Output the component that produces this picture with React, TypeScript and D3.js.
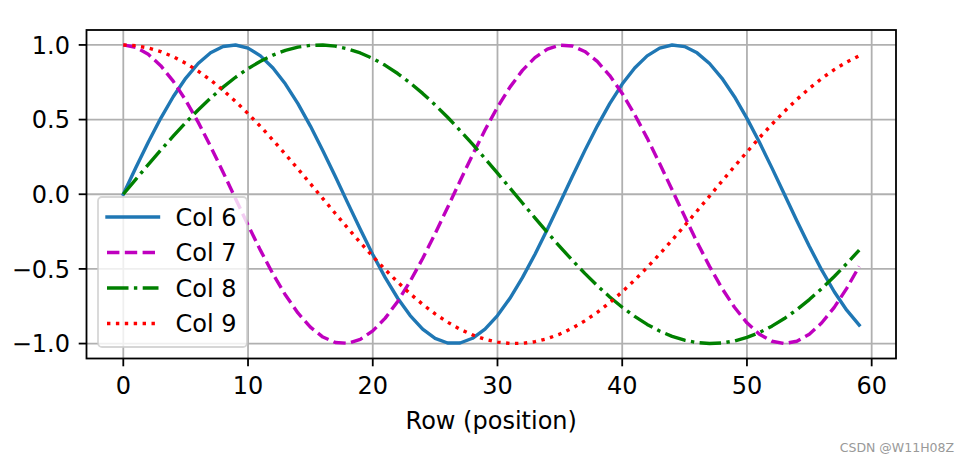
import React from "react";
import * as d3 from "d3";

const rows: number[] = Array.from({ length: 60 }, (_, i) => i);

const col6: number[] = [
  0, 0.1769, 0.3482, 0.5085, 0.6529, 0.7765, 0.8756, 0.9474, 0.9891, 0.9996,
  0.9785, 0.9266, 0.8454, 0.7379, 0.6068, 0.4566, 0.292, 0.1182, -0.0593, -0.2349,
  -0.4032, -0.5586, -0.6965, -0.8125, -0.9027, -0.9647, -0.996, -0.996, -0.9646, -0.9027,
  -0.8124, -0.6966, -0.5585, -0.4031, -0.2348, -0.0592, 0.1183, 0.2922, 0.4567, 0.6069,
  0.738, 0.8455, 0.9266, 0.9786, 0.9996, 0.989, 0.947, 0.8757, 0.7764, 0.6533,
  0.5082, 0.348, 0.1766, -0.0001, -0.1769, -0.3483, -0.5088, -0.653, -0.7766, -0.8757,
];
const col7: number[] = [
  1, 0.9842, 0.9374, 0.861, 0.7575, 0.6301, 0.483, 0.3201, 0.1477, -0.0297,
  -0.2062, -0.3761, -0.5341, -0.6749, -0.7949, -0.8897, -0.9564, -0.993, -0.9982, -0.972,
  -0.9151, -0.8295, -0.7176, -0.5829, -0.4305, -0.2636, -0.0888, 0.0889, 0.2637, 0.4304,
  0.5831, 0.7175, 0.8295, 0.9152, 0.972, 0.9982, 0.993, 0.9564, 0.8896, 0.7948,
  0.6748, 0.534, 0.376, 0.206, 0.0295, -0.1479, -0.3211, -0.4829, -0.6303, -0.7571,
  -0.8612, -0.9375, -0.9843, -1.0, -0.9842, -0.9374, -0.8609, -0.7574, -0.63, -0.483,
];
const col8: number[] = [
  0, 0.0998, 0.1987, 0.2955, 0.3894, 0.4794, 0.5646, 0.6442, 0.7174, 0.7833,
  0.8415, 0.8912, 0.932, 0.9636, 0.9854, 0.9975, 0.9996, 0.9917, 0.9738, 0.9463,
  0.9093, 0.8632, 0.8085, 0.7457, 0.6755, 0.5985, 0.5155, 0.4274, 0.335, 0.2392,
  0.1411, 0.0416, -0.0584, -0.1577, -0.2555, -0.3508, -0.4425, -0.5298, -0.6119, -0.6878,
  -0.7568, -0.8183, -0.8716, -0.9162, -0.9516, -0.9775, -0.9937, -1.0, -0.9962, -0.9825,
  -0.9589, -0.9258, -0.8835, -0.8323, -0.7728, -0.7055, -0.6313, -0.5507, -0.4646, -0.3739,
];
const col9: number[] = [
  1, 0.995, 0.9801, 0.9553, 0.9211, 0.8776, 0.8253, 0.7648, 0.6967, 0.6216,
  0.5403, 0.4536, 0.3624, 0.2675, 0.17, 0.0707, -0.0292, -0.1288, -0.2272, -0.3233,
  -0.4161, -0.5048, -0.5885, -0.6663, -0.7374, -0.8011, -0.8569, -0.9041, -0.9422, -0.971,
  -0.99, -0.9991, -0.9983, -0.9875, -0.9668, -0.9365, -0.8968, -0.8481, -0.791, -0.7259,
  -0.6536, -0.5748, -0.4903, -0.4008, -0.3073, -0.2108, -0.1122, -0.0124, 0.0875, 0.1865,
  0.2837, 0.378, 0.4685, 0.5544, 0.6347, 0.7087, 0.7756, 0.8347, 0.8855, 0.9275,
];

const seriesNames: string[] = ["Col 6", "Col 7", "Col 8", "Col 9"];
const xTicks: number[] = [0, 10, 20, 30, 40, 50, 60];
const yTicks: number[] = [-1.0, -0.5, 0.0, 0.5, 1.0];
const xLabel = "Row (position)";
const watermark = "CSDN @W11H08Z";

const W = 969;
const H = 462;
const L = 86.5, R = 896, T = 30, B = 358.5;
const FONT = "DejaVu Sans, sans-serif";
const FS = 24;

const styles = [
  { color: "#1f77b4", dash: "none" },
  { color: "#bf00bf", dash: "12.4,5.4" },
  { color: "#008000", dash: "21.5,5.4,3.4,5.4" },
  { color: "#ff0000", dash: "3.4,5.5" },
];

const fmt = (v: number) => {
  const s = v.toFixed(1);
  return s.startsWith("-") ? "\u2212" + s.slice(1) : s;
};

export default function App() {
  const x = d3.scaleLinear().domain([-2.95, 61.95]).range([L, R]);
  const y = d3.scaleLinear().domain([-1.1, 1.1]).range([B, T]);
  const series = [col6, col7, col8, col9];
  const line = d3
    .line<number>()
    .x((_, i) => x(rows[i]))
    .y((d) => y(d));

  const legX = 98, legY = 197, legW = 149, legH = 150;
  const rowY = [217, 252.5, 288, 323.5];

  return (
    <svg width={W} height={H} style={{ position: "absolute", left: 0, top: 0, background: "#fff" }}>
      <rect x={0} y={0} width={W} height={H} fill="#fff" />
      {xTicks.map((t) => (
        <line key={"gx" + t} x1={x(t)} x2={x(t)} y1={T} y2={B} stroke="#b0b0b0" strokeWidth={1.8} />
      ))}
      {yTicks.map((t) => (
        <line key={"gy" + t} x1={L} x2={R} y1={y(t)} y2={y(t)} stroke="#b0b0b0" strokeWidth={1.8} />
      ))}
      {series.map((s, k) => (
        <path
          key={"s" + k}
          d={line(s) || ""}
          fill="none"
          stroke={styles[k].color}
          strokeWidth={3.4}
          strokeDasharray={styles[k].dash}
          strokeLinecap={k === 0 ? "square" : "butt"}
          strokeLinejoin="round"
        />
      ))}
      <rect x={L} y={T} width={R - L} height={B - T} fill="none" stroke="#000" strokeWidth={1.8} />
      {xTicks.map((t) => (
        <g key={"xt" + t}>
          <line x1={x(t)} x2={x(t)} y1={B} y2={B + 7.8} stroke="#000" strokeWidth={1.8} />
          <text x={x(t)} y={B + 35.5} textAnchor="middle" fontFamily={FONT} fontSize={FS} fill="#000">
            {t}
          </text>
        </g>
      ))}
      {yTicks.map((t) => (
        <g key={"yt" + t}>
          <line x1={L - 7.8} x2={L} y1={y(t)} y2={y(t)} stroke="#000" strokeWidth={1.8} />
          <text x={L - 16.5} y={y(t)} dy="0.36em" textAnchor="end" fontFamily={FONT} fontSize={FS} fill="#000">
            {fmt(t)}
          </text>
        </g>
      ))}
      <text x={(L + R) / 2} y={428.5} textAnchor="middle" fontFamily={FONT} fontSize={FS} fill="#000">
        {xLabel}
      </text>
      <rect
        x={legX}
        y={legY}
        width={legW}
        height={legH}
        rx={4}
        ry={4}
        fill="#fff"
        fillOpacity={0.8}
        stroke="#cccccc"
        strokeOpacity={0.8}
        strokeWidth={1.8}
      />
      {seriesNames.map((n, k) => (
        <g key={"lg" + k}>
          <line
            x1={107}
            x2={158.5}
            y1={rowY[k]}
            y2={rowY[k]}
            stroke={styles[k].color}
            strokeWidth={3.4}
            strokeDasharray={styles[k].dash}
            strokeLinecap={k === 0 ? "square" : "butt"}
          />
          <text x={175.5} y={rowY[k]} dy="0.36em" fontFamily={FONT} fontSize={FS} fill="#000">
            {n}
          </text>
        </g>
      ))}
      <text x={954} y={452} textAnchor="end" fontFamily={FONT} fontSize={12.5} fill="#999">
        {watermark}
      </text>
    </svg>
  );
}
